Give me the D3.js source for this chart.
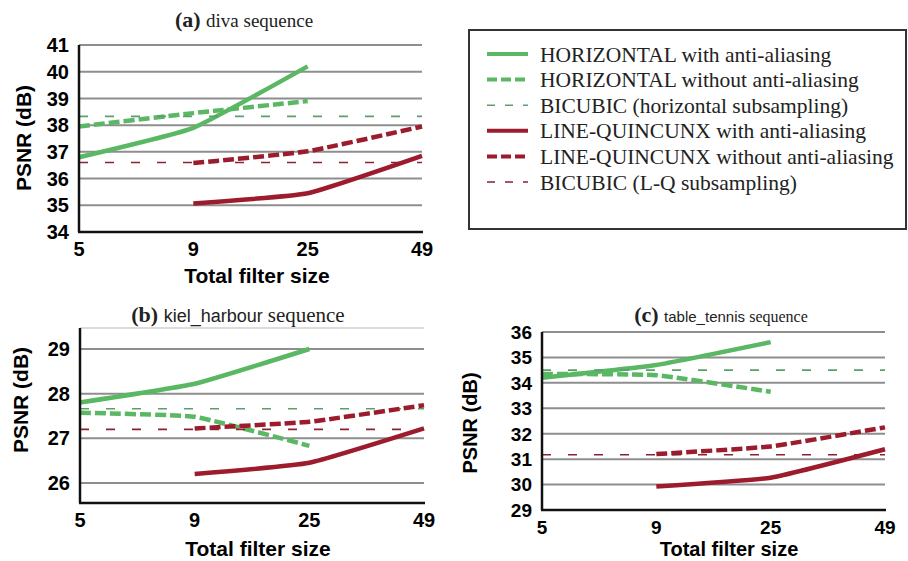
<!DOCTYPE html>
<html>
<head>
<meta charset="utf-8">
<script src="https://cdn.jsdelivr.net/npm/d3@7"></script>
<style>
  body { margin: 0; background: #fff; }
  .tick-label { font-family: "Liberation Sans", Arial, sans-serif; font-weight: bold; }
  .axis-title { font-family: "Liberation Sans", Arial, sans-serif; font-weight: bold; }
  .serif { font-family: "Liberation Serif", "Times New Roman", serif; }
  .sans { font-family: "Liberation Sans", Arial, sans-serif; }
</style>
</head>
<body>
<svg id="chart" width="908" height="561"></svg>
<script>
// x categories (total filter size)
var filterSizes = ["5", "9", "25", "49"];

// (a) diva
var divaHorAA     = [36.8, 37.9, 40.2, null];
var divaHorNoAA   = [37.95, 38.45, 38.9, null];
var divaBicHor    = 38.33;
var divaLqAA      = [null, 35.07, 35.45, 36.85];
var divaLqNoAA    = [null, 36.58, 37.02, 37.95];
var divaBicLq     = 36.6;
var divaTicks     = [34, 35, 36, 37, 38, 39, 40, 41];

// (b) kiel_harbour
var kielHorAA     = [27.8, 28.22, 29.0, null];
var kielHorNoAA   = [27.57, 27.48, 26.83, null];
var kielBicHor    = 27.66;
var kielLqAA      = [null, 26.2, 26.45, 27.22];
var kielLqNoAA    = [null, 27.22, 27.37, 27.74];
var kielBicLq     = 27.2;
var kielTicks     = [26, 27, 28, 29];

// (c) table_tennis
var tennisHorAA   = [34.2, 34.7, 35.6, null];
var tennisHorNoAA = [34.35, 34.3, 33.65, null];
var tennisBicHor  = 34.5;
var tennisLqAA    = [null, 29.92, 30.27, 31.39];
var tennisLqNoAA  = [null, 31.2, 31.5, 32.25];
var tennisBicLq   = 31.17;
var tennisTicks   = [29, 30, 31, 32, 33, 34, 35, 36];

var legendLabels = [
  "HORIZONTAL with anti-aliasing",
  "HORIZONTAL without anti-aliasing",
  "BICUBIC (horizontal subsampling)",
  "LINE-QUINCUNX with anti-aliasing",
  "LINE-QUINCUNX without anti-aliasing",
  "BICUBIC (L-Q subsampling)"
];

var green = "#5ab764", red = "#9c1c2d";
var greenThin = "#5a9f6c", redThin = "#8b2233";

// one style per legend entry
var styles = [
  {color: green, width: 4.5, dash: null},
  {color: green, width: 4.5, dash: "11,4"},
  {color: greenThin, width: 1.6, dash: "9,17"},
  {color: red, width: 4.5, dash: null},
  {color: red, width: 4.5, dash: "11,4"},
  {color: redThin, width: 1.6, dash: "9,17"}
];

var svg = d3.select("#chart");

var panels = [
  {tag: "(a)", name: "diva sequence", nameSans: false,
   left: 79, right: 422, top: 45, bottom: 232, domain: [34, 41], ticks: divaTicks,
   titleX: 244, titleY: 27, ylabX: 23, ylabY: 138, tickY: 256, xTitleY: 283, xTitleX: 257,
   tickFont: 20, titleFont: 21, topLine: false,
   series: [divaHorAA, divaHorNoAA, divaBicHor, divaLqAA, divaLqNoAA, divaBicLq]},
  {tag: "(b)", name: "kiel_harbour", nameSans: true, nameSize: 18, seqSize: 21,
   left: 80, right: 424, top: 328, bottom: 503, domain: [25.55, 29.47], ticks: kielTicks,
   titleX: 238, titleY: 322, ylabX: 20, ylabY: 400, tickY: 527, xTitleY: 556, xTitleX: 258,
   tickFont: 20, titleFont: 21, topLine: true,
   series: [kielHorAA, kielHorNoAA, kielBicHor, kielLqAA, kielLqNoAA, kielBicLq]},
  {tag: "(c)", name: "table_tennis", nameSans: true, nameSize: 15, seqSize: 16,
   left: 542, right: 885, top: 332, bottom: 510, domain: [29, 36], ticks: tennisTicks,
   titleX: 721, titleY: 322, ylabX: 470, ylabY: 423, tickY: 534, xTitleY: 556, xTitleX: 729,
   tickFont: 19, titleFont: 20, topLine: false,
   series: [tennisHorAA, tennisHorNoAA, tennisBicHor, tennisLqAA, tennisLqNoAA, tennisBicLq]}
];

panels.forEach(function(p) {
  var x = d3.scalePoint().domain(filterSizes).range([p.left, p.right]);
  var y = d3.scaleLinear().domain(p.domain).range([p.bottom, p.top]);
  var g = svg.append("g");

  // gridlines
  g.selectAll(".grid")
    .data(p.ticks.filter(function(t) { return t > p.domain[0]; }))
    .enter().append("line")
    .attr("x1", p.left).attr("x2", p.right)
    .attr("y1", function(d) { return y(d); })
    .attr("y2", function(d) { return y(d); })
    .attr("stroke", "#8e8e8e")
    .attr("stroke-width", 2);
  if (p.topLine) {
    g.append("line")
      .attr("x1", p.left).attr("x2", p.right)
      .attr("y1", y(p.domain[1])).attr("y2", y(p.domain[1]))
      .attr("stroke", "#dcdcdc").attr("stroke-width", 2);
  }

  // series
  var line = d3.line()
    .defined(function(d) { return d.v != null; })
    .x(function(d) { return x(d.k); })
    .y(function(d) { return y(d.v); })
    .curve(d3.curveCardinal.tension(0.6));

  p.series.forEach(function(s, i) {
    var st = styles[i];
    var pts;
    if (Array.isArray(s)) {
      pts = filterSizes.map(function(k, j) { return {k: k, v: s[j]}; });
    } else {
      pts = [{k: filterSizes[0], v: s}, {k: filterSizes[3], v: s}];
    }
    g.append("path")
      .datum(pts)
      .attr("d", line)
      .attr("fill", "none")
      .attr("stroke", st.color)
      .attr("stroke-width", st.width)
      .attr("stroke-dasharray", st.dash)
      .attr("stroke-linecap", "butt");
  });

  // axes
  g.append("line").attr("x1", p.left).attr("x2", p.left)
    .attr("y1", p.top).attr("y2", p.bottom)
    .attr("stroke", "#111").attr("stroke-width", 2.5);
  g.append("line").attr("x1", p.left - 1).attr("x2", p.right + 1)
    .attr("y1", p.bottom).attr("y2", p.bottom)
    .attr("stroke", "#111").attr("stroke-width", 2.5);

  // y tick labels
  g.selectAll(".ylab").data(p.ticks).enter().append("text")
    .attr("class", "tick-label")
    .attr("x", p.left - 10)
    .attr("y", function(d) { return y(d); })
    .attr("dy", "0.36em")
    .attr("text-anchor", "end")
    .style("font-size", p.tickFont + "px")
    .text(function(d) { return d; });

  // x tick labels
  g.selectAll(".xlab").data(filterSizes).enter().append("text")
    .attr("class", "tick-label")
    .attr("x", function(d) { return x(d); })
    .attr("y", p.tickY)
    .attr("text-anchor", "middle")
    .style("font-size", p.tickFont + "px")
    .text(function(d) { return d; });

  g.append("text").attr("class", "axis-title")
    .attr("x", p.xTitleX).attr("y", p.xTitleY)
    .attr("text-anchor", "middle")
    .style("font-size", p.titleFont + "px")
    .text("Total filter size");

  g.append("text").attr("class", "axis-title")
    .attr("transform", "translate(" + p.ylabX + "," + p.ylabY + ") rotate(-90)")
    .attr("dy", "0.36em")
    .attr("text-anchor", "middle")
    .style("font-size", p.titleFont + "px")
    .text("PSNR (dB)");

  // panel title
  var t = g.append("text").attr("x", p.titleX).attr("y", p.titleY)
    .attr("text-anchor", "middle").attr("fill", "#222");
  t.append("tspan").attr("class", "serif").style("font-weight", "bold")
    .style("font-size", "22px").text(p.tag + " ");
  if (p.nameSans) {
    t.append("tspan").attr("class", "sans").style("font-size", p.nameSize + "px").text(p.name + " ");
    t.append("tspan").attr("class", "serif").style("font-size", p.seqSize + "px").text("sequence");
  } else {
    t.append("tspan").attr("class", "serif").style("font-size", "19px").text(p.name);
  }
});

// legend
var lg = svg.append("g");
lg.append("rect")
  .attr("x", 469).attr("y", 30).attr("width", 437).attr("height", 199)
  .attr("fill", "#fff").attr("stroke", "#333").attr("stroke-width", 2);

var rowY = d3.scalePoint().domain(d3.range(legendLabels.length)).range([54, 182]);

legendLabels.forEach(function(label, i) {
  var st = styles[i];
  var thin = st.width < 2;
  lg.append("line")
    .attr("x1", 487).attr("x2", 528)
    .attr("y1", rowY(i)).attr("y2", rowY(i))
    .attr("stroke", st.color)
    .attr("stroke-width", thin ? 1.6 : 4)
    .attr("stroke-dasharray", thin ? "8,10" : st.dash ? "10,4" : null);
  lg.append("text")
    .attr("class", "serif")
    .attr("x", 540).attr("y", rowY(i))
    .attr("dy", "0.35em")
    .style("font-size", "21.5px")
    .attr("fill", "#222")
    .text(label);
});
</script>
</body>
</html>
